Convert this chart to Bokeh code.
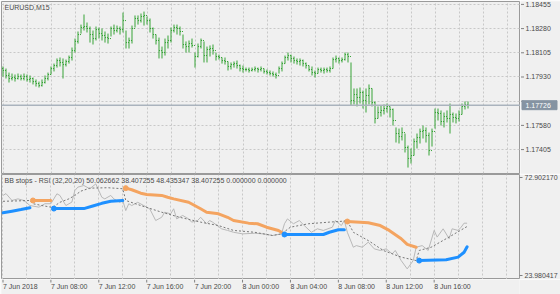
import numpy as np
from bokeh.plotting import figure
from bokeh.layouts import column, row
from bokeh.models import (Range1d, FixedTicker, PrintfTickFormatter, Grid, Span,
                          Label, ColumnDataSource)
from bokeh.core.properties import value
from bokeh.embed import file_html
from bokeh.resources import INLINE

# ---------------- data ----------------
symbol_title = "EURUSD,M15"
ind_title = "BB stops - RSI (32,20,20) 50.062662 38.407255 48.435347 38.407255 0.000000 0.000000"

first_open = 1.17991
high = [
    1.18006, 1.17991, 1.17962, 1.17955, 1.17948, 1.17955, 1.17948, 1.17955, 1.17948, 1.17941,
    1.17926, 1.17912, 1.17897, 1.17912, 1.17941, 1.17962, 1.18006, 1.18027, 1.18064, 1.18071,
    1.18064, 1.18056, 1.18085, 1.18143, 1.18208, 1.18259, 1.18309, 1.18382, 1.18324, 1.18295,
    1.18266, 1.18295, 1.18288, 1.18281, 1.18259, 1.18244, 1.18295, 1.18309, 1.18302, 1.18295,
    1.18396, 1.18266, 1.18215, 1.18302, 1.18375, 1.18375, 1.18389, 1.18403, 1.18367, 1.18353,
    1.18288, 1.18237, 1.18215, 1.18150, 1.18208, 1.18230, 1.18288, 1.18309, 1.18309, 1.18295,
    1.18237, 1.18187, 1.18194, 1.18208, 1.18107, 1.18172, 1.18208, 1.18187, 1.18150, 1.18158,
    1.18165, 1.18107, 1.18092, 1.18071, 1.18071, 1.18042, 1.18035, 1.18042, 1.18049, 1.18020,
    1.18013, 1.17998, 1.17998, 1.17998, 1.18006, 1.17998, 1.18006, 1.17991, 1.17984, 1.17977,
    1.17970, 1.17962, 1.18006, 1.18042, 1.18085, 1.18107, 1.18092, 1.18078, 1.18064, 1.18064,
    1.18056, 1.18035, 1.18013, 1.18006, 1.17977, 1.17998, 1.17998, 1.17998, 1.17998, 1.18006,
    1.18071, 1.18085, 1.18071, 1.18071, 1.18107, 1.18107, 1.18035, 1.17847, 1.17847, 1.17854,
    1.17832, 1.17847, 1.17876, 1.17847, 1.17753, 1.17717, 1.17724, 1.17731, 1.17738, 1.17717,
    1.17702, 1.17565, 1.17557, 1.17565, 1.17521, 1.17434, 1.17413, 1.17485, 1.17521, 1.17557,
    1.17579, 1.17565, 1.17528, 1.17557, 1.17702, 1.17702, 1.17688, 1.17673, 1.17688, 1.17738,
    1.17673, 1.17666, 1.17688, 1.17738, 1.17753, 1.17753,
]
low = [
    1.17933, 1.17919, 1.17890, 1.17905, 1.17897, 1.17912, 1.17905, 1.17905, 1.17897, 1.17890,
    1.17876, 1.17861, 1.17854, 1.17861, 1.17883, 1.17905, 1.17948, 1.17970, 1.17998, 1.18006,
    1.17919, 1.18006, 1.18027, 1.18049, 1.18107, 1.18172, 1.18244, 1.18266, 1.18252, 1.18179,
    1.18165, 1.18194, 1.18208, 1.18194, 1.18179, 1.18172, 1.18223, 1.18237, 1.18252, 1.18237,
    1.18252, 1.18136, 1.18136, 1.18172, 1.18288, 1.18309, 1.18324, 1.18302, 1.18309, 1.18252,
    1.18208, 1.18165, 1.18064, 1.18064, 1.18085, 1.18136, 1.18179, 1.18252, 1.18237, 1.18230,
    1.18136, 1.18107, 1.18107, 1.18143, 1.17998, 1.18071, 1.18136, 1.18035, 1.18035, 1.18078,
    1.18092, 1.18049, 1.18056, 1.18027, 1.18020, 1.17977, 1.17984, 1.17998, 1.17991, 1.17970,
    1.17962, 1.17970, 1.17962, 1.17970, 1.17970, 1.17962, 1.17970, 1.17955, 1.17948, 1.17941,
    1.17933, 1.17919, 1.17955, 1.17970, 1.18027, 1.18049, 1.18035, 1.18027, 1.18020, 1.18013,
    1.18006, 1.17991, 1.17970, 1.17941, 1.17926, 1.17955, 1.17962, 1.17955, 1.17962, 1.17962,
    1.17991, 1.18035, 1.18027, 1.18035, 1.18049, 1.18035, 1.17724, 1.17731, 1.17717, 1.17738,
    1.17702, 1.17673, 1.17731, 1.17717, 1.17594, 1.17630, 1.17644, 1.17659, 1.17673, 1.17637,
    1.17579, 1.17456, 1.17449, 1.17471, 1.17384, 1.17275, 1.17304, 1.17362, 1.17413, 1.17449,
    1.17485, 1.17456, 1.17362, 1.17427, 1.17557, 1.17615, 1.17579, 1.17565, 1.17601, 1.17521,
    1.17601, 1.17594, 1.17608, 1.17659, 1.17695, 1.17702,
]
close = [
    1.17977, 1.17941, 1.17919, 1.17926, 1.17919, 1.17933, 1.17919, 1.17933, 1.17912, 1.17919,
    1.17897, 1.17883, 1.17868, 1.17890, 1.17919, 1.17948, 1.17991, 1.18013, 1.18049, 1.18035,
    1.18020, 1.18042, 1.18071, 1.18121, 1.18187, 1.18237, 1.18288, 1.18295, 1.18281, 1.18237,
    1.18208, 1.18273, 1.18244, 1.18230, 1.18215, 1.18208, 1.18281, 1.18266, 1.18281, 1.18273,
    1.18338, 1.18179, 1.18194, 1.18281, 1.18353, 1.18338, 1.18367, 1.18375, 1.18338, 1.18281,
    1.18237, 1.18194, 1.18121, 1.18107, 1.18179, 1.18194, 1.18266, 1.18288, 1.18281, 1.18259,
    1.18165, 1.18150, 1.18172, 1.18158, 1.18078, 1.18150, 1.18194, 1.18085, 1.18129, 1.18136,
    1.18121, 1.18078, 1.18071, 1.18049, 1.18042, 1.18006, 1.18020, 1.18027, 1.18013, 1.17991,
    1.17984, 1.17984, 1.17977, 1.17984, 1.17991, 1.17984, 1.17991, 1.17970, 1.17962, 1.17955,
    1.17948, 1.17941, 1.17991, 1.18027, 1.18071, 1.18085, 1.18064, 1.18049, 1.18042, 1.18049,
    1.18027, 1.18013, 1.17984, 1.17962, 1.17955, 1.17984, 1.17977, 1.17984, 1.17977, 1.17991,
    1.18056, 1.18064, 1.18049, 1.18056, 1.18092, 1.18078, 1.17760, 1.17803, 1.17782, 1.17818,
    1.17760, 1.17796, 1.17847, 1.17745, 1.17630, 1.17673, 1.17688, 1.17702, 1.17717, 1.17695,
    1.17615, 1.17521, 1.17499, 1.17528, 1.17420, 1.17341, 1.17362, 1.17463, 1.17492, 1.17536,
    1.17543, 1.17507, 1.17398, 1.17536, 1.17673, 1.17666, 1.17608, 1.17644, 1.17630, 1.17659,
    1.17637, 1.17630, 1.17659, 1.17717, 1.17731, 1.17726,
]

price_ticks = [1.17405, 1.17580, 1.17755, 1.17930, 1.18105, 1.18280, 1.18455]
rsi_ticks = [23.980417, 72.902170]

time_tick_idx = [0, 16, 32, 48, 64, 80, 96, 112, 128, 144]
time_labels = ["7 Jun 2018", "7 Jun 08:00", "7 Jun 12:00", "7 Jun 16:00", "7 Jun 20:00",
               "8 Jun 00:00", "8 Jun 04:00", "8 Jun 08:00", "8 Jun 12:00", "8 Jun 16:00"]
grid_idx = [0, 8, 16, 24, 32, 40, 48, 56, 64, 72, 80, 88, 96, 104, 112, 120, 128, 136, 144, 152, 160, 168]

# RSI (gray line)
rsi_idx = [0, 1, 3, 5, 7, 9, 12, 14, 16, 18, 19, 20, 21, 23, 24, 25, 27, 29, 31, 32, 33, 34, 36, 37, 39, 40,
           41, 42, 43, 45, 47, 49, 51, 53, 54, 56, 57, 58, 60, 62, 63, 65, 66, 68, 69, 70, 73, 75, 77, 80,
           84, 87, 90, 93, 94, 95, 97, 99, 100, 103, 105, 107, 110, 111, 113, 114, 115, 117, 118, 120, 122,
           124, 126, 128, 130, 131, 133, 135, 137, 138, 140, 142, 144, 145, 147, 149, 150, 152, 153, 154, 155]
rsi_val = [63.8, 64.7, 61.3, 62.1, 61.3, 58.8, 58.0, 59.7, 59.7, 64.6, 63.8, 61.3, 58.8, 60.5, 66.2, 67.9,
           68.7, 67.1, 69.5, 66.2, 62.9, 62.1, 63.8, 62.1, 60.4, 61.3, 56.3, 59.7, 58.8, 60.4, 58.8, 57.2,
           51.4, 53.0, 55.5, 54.7, 57.2, 52.2, 53.9, 52.2, 50.6, 51.4, 53.0, 49.8, 51.4, 50.6, 47.3, 46.5,
           45.6, 44.8, 45.1, 44.8, 44.0, 44.8, 49.8, 52.2, 49.8, 51.4, 49.8, 45.6, 47.3, 46.5, 48.1, 51.4,
           48.9, 51.4, 45.6, 38.2, 39.0, 38.2, 40.7, 37.4, 36.6, 37.4, 34.9, 36.6, 31.6, 27.5, 31.6, 38.2,
           39.0, 36.6, 46.5, 43.2, 47.3, 42.4, 47.3, 46.5, 48.1, 50.1, 50.062662]

# opposite band (dashed)
band_idx = [0, 5, 9, 10, 13, 16, 17, 19, 22, 24, 26, 29, 35, 40, 41, 46, 53, 59, 66, 72, 77, 84, 90, 93,
            96, 102, 109, 115, 117, 122, 127, 133, 138, 139, 143, 148, 155]
band_val = [60.9, 61.1, 61.3, 59.7, 58.8, 58.0, 58.3, 60.4, 62.1, 63.8, 65.9, 67.4, 67.6, 67.1, 61.3, 58.8,
            55.5, 53.0, 50.6, 48.9, 46.5, 45.6, 44.0, 44.8, 48.1, 49.8, 50.6, 51.2, 45.6, 41.5, 36.6, 33.3,
            31.6, 36.6, 38.2, 42.4, 48.435347]

# stops
blue_x = [[0, 3, 6, 9], [17, 27, 30, 33, 36, 40], [94, 107, 109, 112, 114], [139, 148, 152, 154, 155]]
blue_y = [[55.2, 56.0, 56.8, 57.7], [57.3, 57.3, 58.6, 59.9, 60.9, 61.3],
          [44.5, 44.5, 45.6, 46.8, 46.8], [31.6, 32.0, 33.3, 35.7, 38.407255]]
orange_x = [[10, 16],
            [41, 43, 46, 48, 53, 55, 57, 62, 66, 68, 72, 75, 77, 82, 85, 88, 92, 93],
            [115, 122, 126, 129, 133, 135, 138]]
orange_y = [[61.3, 61.3],
            [67.4, 66.6, 64.9, 64.3, 63.8, 62.9, 62.1, 60.4, 57.2, 55.5, 54.7, 53.0, 51.4, 50.1, 49.8,
             48.1, 46.5, 45.6],
            [50.9, 50.3, 48.9, 46.5, 42.4, 39.6, 38.2]]

# ---------------- style ----------------
BG = "#f0f0f0"
FRAME = "#9a9a9a"
GRID = "#c8c8c8"
GREEN = "#36a336"
TXT = "#4a4a4a"
TICK = "#808080"
BLUE = "#1e90ff"
ORANGE = "#f4a460"
BOX = "#8593a2"
FONT = "Liberation Sans"

idx = np.arange(len(close))
opens = [first_open] + close[:-1]
last = close[-1]

xr = Range1d(-0.5, 172.5)
price_range = Range1d(1.17232, 1.18476)
px = (price_range.end - price_range.start) / 172.0   # price per pixel in the top pane


def make_fig(width, height, x_range, y_range, right_axis=False, outline=True):
    p = figure(width=width, height=height, x_range=x_range, y_range=y_range,
               x_axis_location=None, y_axis_location="right" if right_axis else None,
               toolbar_location=None, output_backend="svg", title=None,
               min_border_left=0, min_border_right=0, min_border_top=0, min_border_bottom=0,
               background_fill_color=BG, border_fill_color=BG,
               outline_line_color=FRAME if outline else None, outline_line_width=1)
    p.grid.visible = False
    return p


# ---------------- price pane ----------------
p1 = make_fig(520, 174, xr, price_range)
p1.min_border_left = 1
p1.min_border_top = 1
p1.min_border_bottom = 1
p1.add_layout(Grid(dimension=0, ticker=FixedTicker(ticks=grid_idx),
                   grid_line_color=GRID, grid_line_dash="2 2"))
p1.add_layout(Grid(dimension=1, ticker=FixedTicker(ticks=price_ticks),
                   grid_line_color=GRID, grid_line_dash="2 2"))

src = ColumnDataSource(dict(x=idx, xo=idx - 0.34, xc=idx + 0.34,
                            o=opens, h=high, l=low, c=close))
p1.segment("x", "l", "x", "h", source=src, line_color=GREEN, line_width=1)
p1.segment("xo", "o", "x", "o", source=src, line_color=GREEN, line_width=1)
p1.segment("x", "c", "xc", "c", source=src, line_color=GREEN, line_width=1)

p1.add_layout(Span(location=last, dimension="width", line_color="#aab3bd", line_width=1.5))
p1.add_layout(Label(x=3, y=1.18435, x_units="screen", text=symbol_title,
                    text_font=FONT, text_font_size="7px", text_color=TXT, text_baseline="middle"))

# price scale strip (right of the price pane), sharing the price range
pa = make_fig(40, 174, Range1d(0, 40), price_range, outline=False)
pa.min_border_top = 1
pa.min_border_bottom = 1
pa.segment(x0=[0.5] * len(price_ticks), y0=price_ticks, x1=[3.5] * len(price_ticks), y1=price_ticks,
           line_color=TICK, line_width=1)
shown = [t for t in price_ticks if abs(t - last) > 7 * px]
pa.text(x=[5] * len(shown), y=shown, text=["%.5f" % t for t in shown],
        text_font=value(FONT), text_font_size="7px", text_color=TXT,
        text_align="left", text_baseline="middle")
pa.quad(left=[1.5], right=[36.5], bottom=[last - 4.5 * px], top=[last + 4.5 * px],
        fill_color=BOX, line_color=BOX)
pa.text(x=[5], y=[last], text=["%.5f" % last], text_font=value(FONT), text_font_size="7px",
        text_color="white", text_align="left", text_baseline="middle")

# ---------------- RSI pane ----------------
p2 = make_fig(560, 105, xr, Range1d(22.25, 74.14), right_axis=True)
p2.min_border_left = 1
p2.min_border_right = 40
p2.add_layout(Grid(dimension=0, ticker=FixedTicker(ticks=grid_idx),
                   grid_line_color=GRID, grid_line_dash="2 2"))
ax = p2.yaxis[0]
ax.ticker = FixedTicker(ticks=rsi_ticks)
ax.formatter = PrintfTickFormatter(format="%.6f")
ax.axis_line_color = None
ax.major_tick_in = 0
ax.major_tick_out = 3
ax.major_tick_line_color = TICK
ax.minor_tick_line_color = None
ax.major_label_standoff = 2
ax.major_label_text_font = FONT
ax.major_label_text_font_size = "7px"
ax.major_label_text_color = TXT

p2.line(rsi_idx, rsi_val, line_color="#b8b8b8", line_width=1)
p2.line(band_idx, band_val, line_color="#777777", line_width=1, line_dash="2 2")
p2.multi_line(orange_x, orange_y, line_color=ORANGE, line_width=3, line_cap="round")
p2.multi_line(blue_x, blue_y, line_color=BLUE, line_width=3, line_cap="round")
o_start = [(s[0], v[0]) for s, v in zip(orange_x, orange_y) if s[0] > 0]
b_start = [(s[0], v[0]) for s, v in zip(blue_x, blue_y) if s[0] > 0]
p2.scatter([a for a, _ in o_start], [b for _, b in o_start], size=5, color=ORANGE)
p2.scatter([a for a, _ in b_start], [b for _, b in b_start], size=5, color=BLUE)
p2.add_layout(Label(x=3, y=71.2, x_units="screen", text=ind_title,
                    text_font=FONT, text_font_size="7px", text_color=TXT, text_baseline="middle"))

# ---------------- time labels row ----------------
p3 = make_fig(560, 15, xr, Range1d(0, 15), outline=False)
p3.min_border_left = 1
p3.min_border_right = 40
p3.segment(x0=time_tick_idx, y0=[15] * len(time_tick_idx), x1=time_tick_idx,
           y1=[12] * len(time_tick_idx), line_color=TICK, line_width=1)
p3.text(x=time_tick_idx, y=[8.5] * len(time_tick_idx), text=time_labels,
        text_font=value(FONT), text_font_size="7px", text_color=TXT,
        text_align="left", text_baseline="middle")

layout = column(row(p1, pa, spacing=0), p2, p3, spacing=0)
with open("out.html", "w") as f:
    f.write(file_html(layout, INLINE, title="EURUSD M15"))
